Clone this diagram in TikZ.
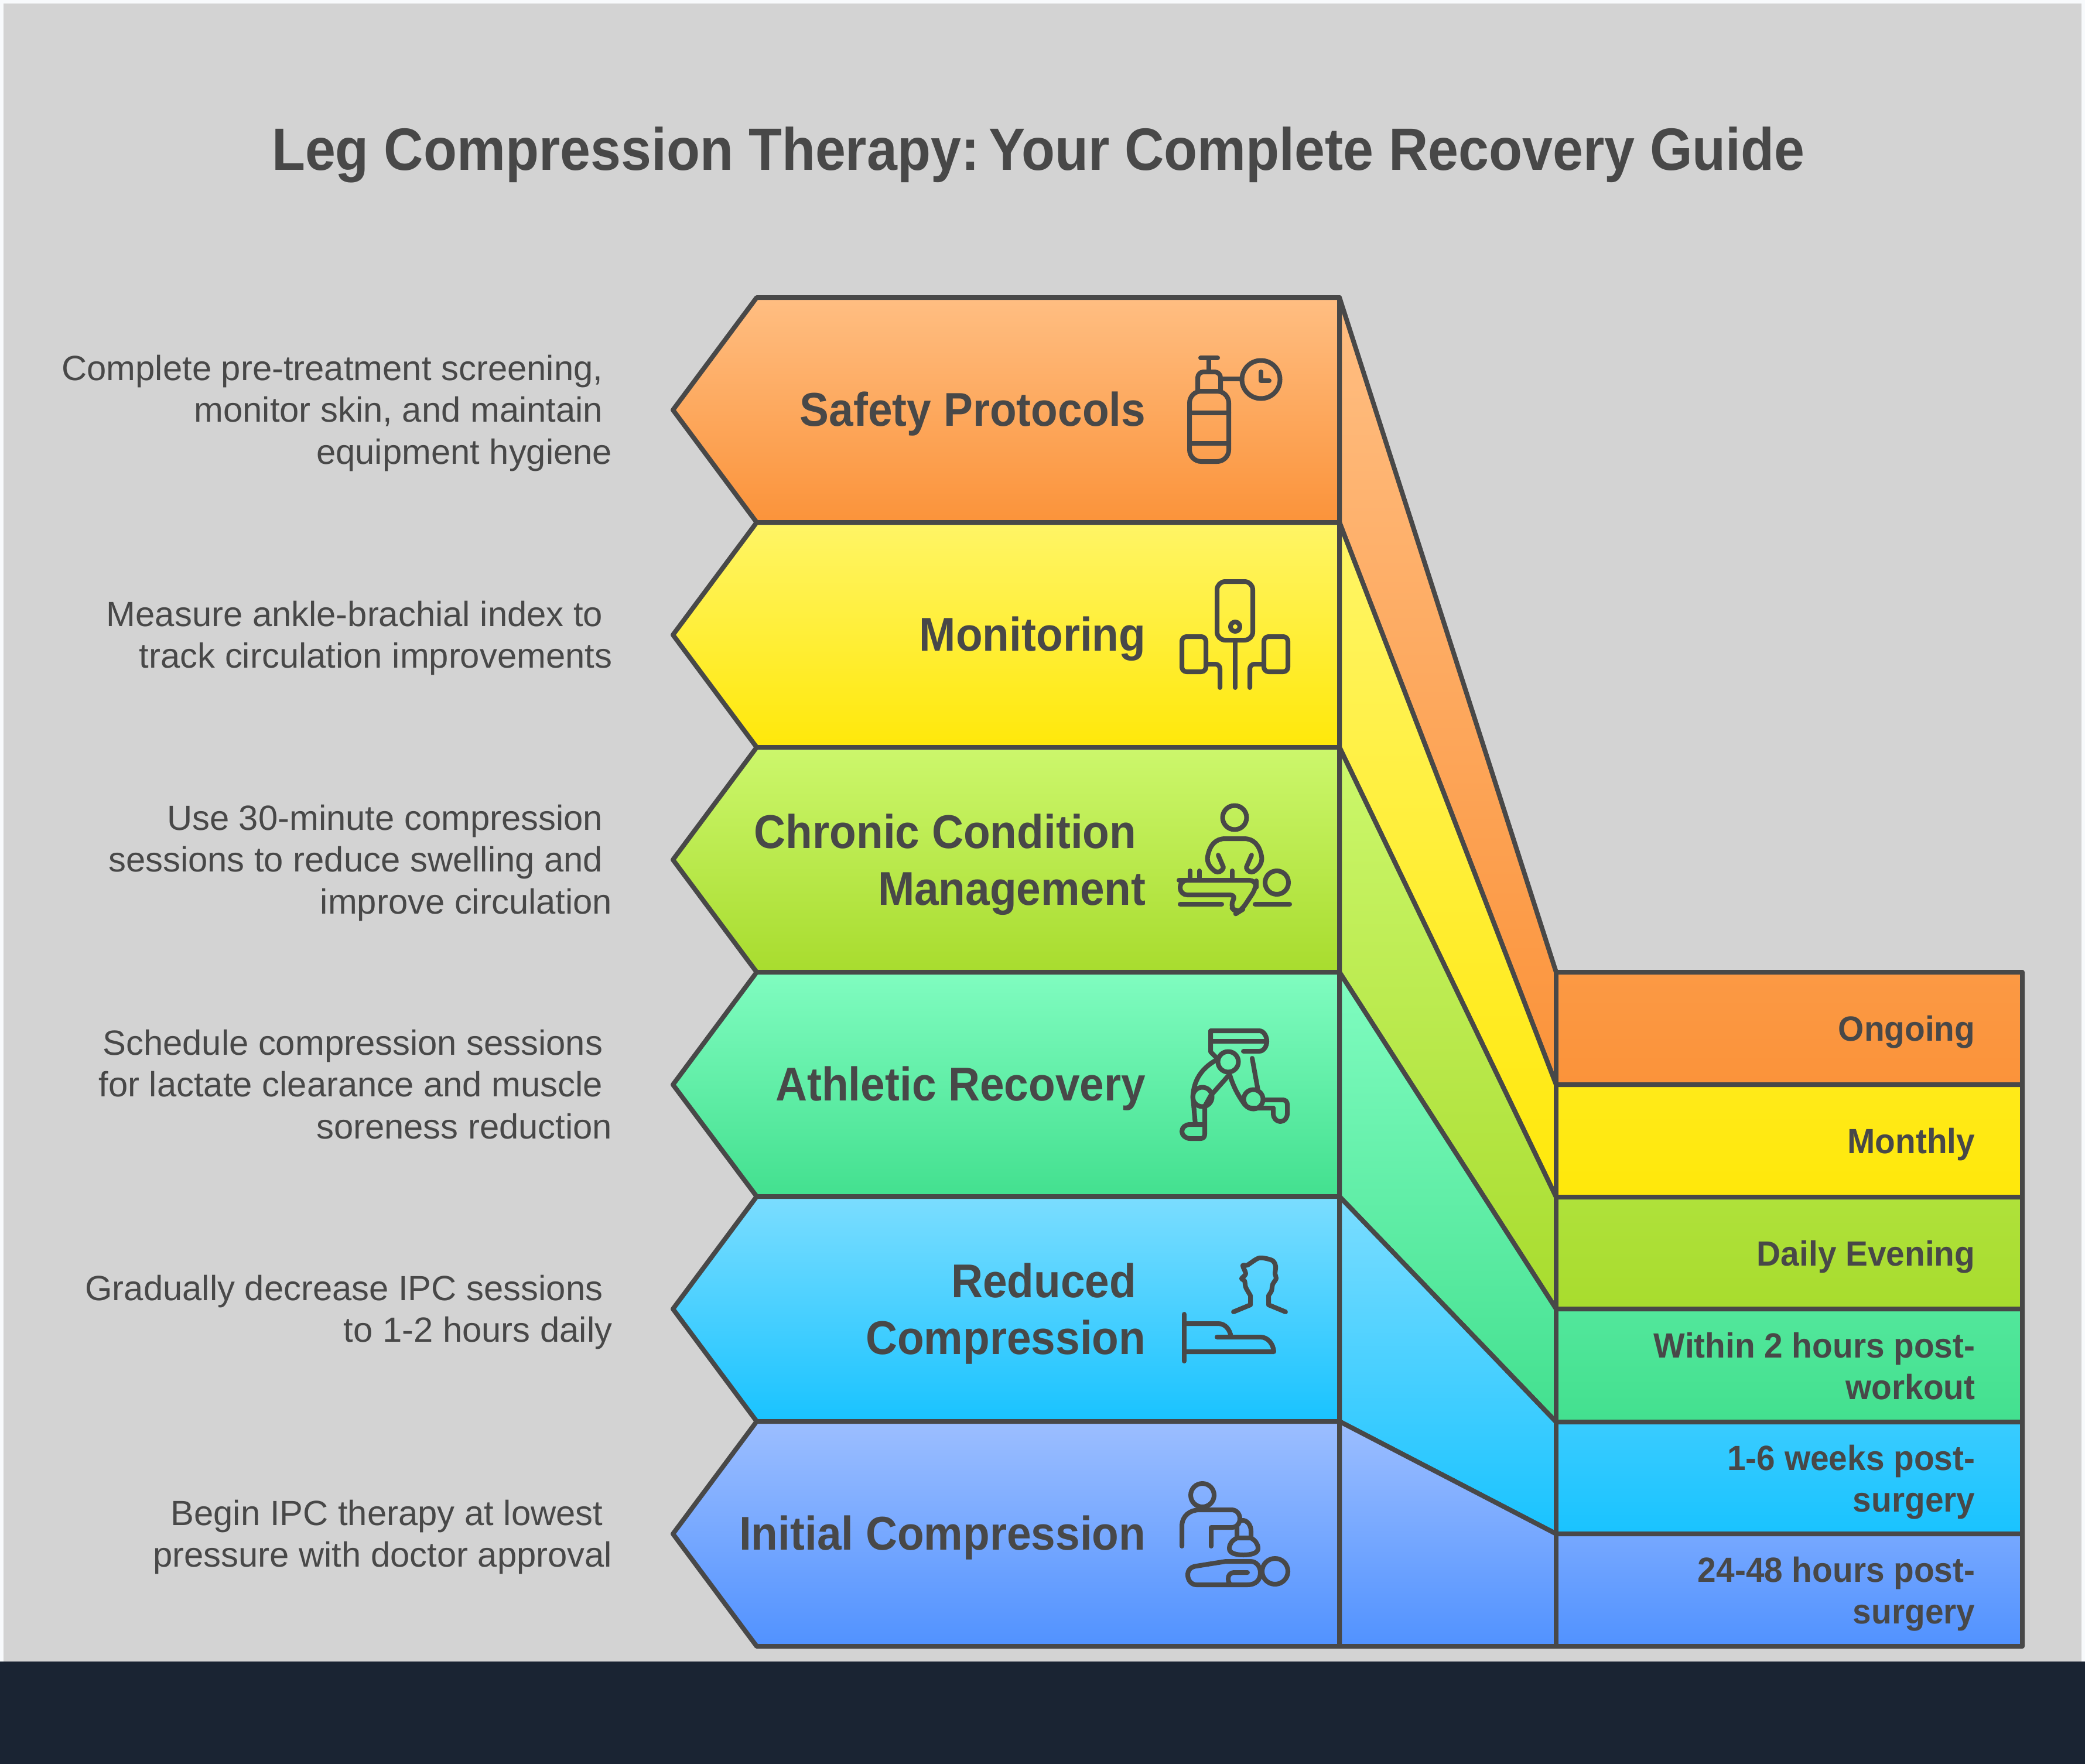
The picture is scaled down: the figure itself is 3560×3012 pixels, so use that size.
\documentclass[tikz,border=0pt]{standalone}
\usepackage{fontspec}
\setmainfont{Liberation Sans}
\newfontfamily\titlefont[FakeStretch=0.915]{Liberation Sans}
\newfontfamily\stagefont[FakeStretch=0.925]{Liberation Sans}
\newfontfamily\timingfont[FakeStretch=0.95]{Liberation Sans}
\definecolor{ink}{HTML}{484848}
\definecolor{panel}{HTML}{D3D3D3}
\definecolor{paper}{HTML}{F8FAFC}
\definecolor{strip}{HTML}{1A2433}
\definecolor{orangeA}{HTML}{FFBE82}
\definecolor{orangeB}{HTML}{FB933A}
\definecolor{yellowA}{HTML}{FFF566}
\definecolor{yellowB}{HTML}{FFE80A}
\definecolor{limeA}{HTML}{CCF76C}
\definecolor{limeB}{HTML}{A8DC2E}
\definecolor{mintA}{HTML}{80FCC0}
\definecolor{mintB}{HTML}{43E08F}
\definecolor{skyA}{HTML}{7BDDFF}
\definecolor{skyB}{HTML}{19C3FF}
\definecolor{blueA}{HTML}{9CBEFF}
\definecolor{blueB}{HTML}{5192FF}
\tikzset{
    outline/.style={draw=ink,line width=0.08cm,line join=round},
    icon/.style={draw=ink,line width=0.08cm,line cap=round,line join=round},
    headline/.style={text=ink,inner sep=0pt,yshift=-0.07cm,font=\titlefont\bfseries\fontsize{29}{35}\selectfont},
    textblock/.style={anchor=east,align=right,text=ink,inner sep=0pt,execute at begin node=\strut,execute at end node=\strut},
    stage/.style={textblock,yshift=-0.08cm,font=\stagefont\bfseries\fontsize{23}{27.4}\selectfont},
    note/.style={textblock,yshift=-0.1cm,font=\fontsize{17}{20.35}\selectfont},
    timing/.style={textblock,yshift=-0.07cm,font=\timingfont\bfseries\fontsize{17}{20.35}\selectfont},
}
\newcommand{\trail}{\hbox to 0.16cm{\hfil}}
\begin{document}
\begin{tikzpicture}[x=0.01cm,y=-0.01cm]
    \useasboundingbox (0,0) rectangle (3560,3012);
    % Page, grey panel and the dark strip at the foot
    \fill[paper] (0,0) rectangle (3560,3012);
    \fill[panel] (6,6) rectangle (3554,2837);
    \fill[strip] (0,2837) rectangle (3560,3012);
    \node[headline] (title) at (1773,257) {Leg Compression Therapy: \kern-0.18cm Your Complete Recovery Guide};

    % Bands with their end boxes, one shaded shape each, from top to bottom
    \filldraw[outline,top color=orangeA,bottom color=orangeB] (2287,508) -- (2657,1660) -- (3453,1660) -- (3453,1852) -- (2657,1852) -- (2287,892) -- cycle;
    \filldraw[outline,top color=yellowA,bottom color=yellowB] (2287,892) -- (2657,1852) -- (3453,1852) -- (3453,2044) -- (2657,2044) -- (2287,1276) -- cycle;
    \filldraw[outline,top color=limeA,bottom color=limeB] (2287,1276) -- (2657,2044) -- (3453,2044) -- (3453,2235) -- (2657,2235) -- (2287,1660) -- cycle;
    \filldraw[outline,top color=mintA,bottom color=mintB] (2287,1660) -- (2657,2235) -- (3453,2235) -- (3453,2428) -- (2657,2428) -- (2287,2043) -- cycle;
    \filldraw[outline,top color=skyA,bottom color=skyB] (2287,2043) -- (2657,2428) -- (3453,2428) -- (3453,2619) -- (2657,2619) -- (2287,2427) -- cycle;
    \filldraw[outline,top color=blueA,bottom color=blueB] (2287,2427) -- (2657,2619) -- (3453,2619) -- (3453,2811) -- (2287,2811) -- cycle;
    \draw[outline] (2657,1660) -- (2657,2811);

    % Arrow shaped stages
    \filldraw[outline,top color=orangeA,bottom color=orangeB] (1292,508) -- (2287,508) -- (2287,892) -- (1292,892) -- (1149,700) -- cycle;
    \filldraw[outline,top color=yellowA,bottom color=yellowB] (1292,892) -- (2287,892) -- (2287,1276) -- (1292,1276) -- (1149,1084) -- cycle;
    \filldraw[outline,top color=limeA,bottom color=limeB] (1292,1276) -- (2287,1276) -- (2287,1660) -- (1292,1660) -- (1149,1468) -- cycle;
    \filldraw[outline,top color=mintA,bottom color=mintB] (1292,1660) -- (2287,1660) -- (2287,2043) -- (1292,2043) -- (1149,1852) -- cycle;
    \filldraw[outline,top color=skyA,bottom color=skyB] (1292,2043) -- (2287,2043) -- (2287,2427) -- (1292,2427) -- (1149,2235) -- cycle;
    \filldraw[outline,top color=blueA,bottom color=blueB] (1292,2427) -- (2287,2427) -- (2287,2811) -- (1292,2811) -- (1149,2619) -- cycle;

    % Stage names
    \node[stage] (safety) at (1957,700) {Safety Protocols};
    \node[stage] (monitoring) at (1957,1084) {Monitoring};
    \node[stage] (chronic) at (1957,1474) {Chronic Condition\trail\\Management};
    \node[stage] (athletic) at (1957,1852) {Athletic Recovery};
    \node[stage] (reduced) at (1957,2241) {Reduced\trail\\Compression};
    \node[stage] (initial) at (1957,2619) {Initial Compression};

    % Notes on the left
    \node[note] (safetynote) at (1046,700) {Complete pre-treatment screening,\trail\\monitor skin, and maintain\trail\\equipment hygiene};
    \node[note] (monitoringnote) at (1046,1084) {Measure ankle-brachial index to\trail\\track circulation improvements};
    \node[note] (chronicnote) at (1046,1468) {Use 30-minute compression\trail\\sessions to reduce swelling and\trail\\improve circulation};
    \node[note] (athleticnote) at (1046,1852) {Schedule compression sessions\trail\\for lactate clearance and muscle\trail\\soreness reduction};
    \node[note] (reducednote) at (1046,2235) {Gradually decrease IPC sessions\trail\\to 1-2 hours daily};
    \node[note] (initialnote) at (1046,2619) {Begin IPC therapy at lowest\trail\\pressure with doctor approval};

    % Timings on the right
    \node[timing] (safetytime) at (3373,1756) {Ongoing};
    \node[timing] (monitoringtime) at (3373,1948) {Monthly};
    \node[timing] (chronictime) at (3373,2140) {Daily Evening};
    \node[timing] (athletictime) at (3373,2336) {Within 2 hours post-\\workout};
    \node[timing] (reducedtime) at (3373,2528) {1-6 weeks post-\\surgery};
    \node[timing] (initialtime) at (3373,2719) {24-48 hours post-\\surgery};

    % Icon: bottle with gauge
    \draw[icon,rounded corners=0.2cm] (2031,705) -- (2031,668) -- (2098,668) -- (2098,705);
    \draw[icon,rounded corners=0.2cm] (2031,705) -- (2031,788) -- (2098,788) -- (2098,705);
    \draw[icon] (2031,705) -- (2098,705) (2031,757) -- (2098,757);
    \draw[icon,rounded corners=0.1cm] (2045,668) -- (2045,635) -- (2084,635) -- (2084,668);
    \draw[icon] (2064,635) -- (2064,611) (2050,611) -- (2079,611);
    \draw[icon] (2084,647) -- (2120,647);
    \draw[icon] (2153,648) circle (32.5);
    \draw[icon] (2153,635) -- (2153,650) -- (2167,650);

    % Icon: monitor with two cuffs
    \draw[icon,rounded corners=0.14cm] (2078,993) rectangle (2139,1093);
    \draw[icon] (2109,1070) circle (8);
    \draw[icon] (2109,1093) -- (2109,1174);
    \draw[icon,rounded corners=0.08cm] (2018,1087) rectangle (2059,1147);
    \draw[icon,rounded corners=0.08cm] (2158,1087) rectangle (2199,1147);
    \draw[icon,rounded corners=0.08cm] (2059,1134) -- (2083,1134) -- (2083,1174);
    \draw[icon,rounded corners=0.08cm] (2158,1134) -- (2134,1134) -- (2134,1174);

    % Icon: therapist and resting leg
    \draw[icon] (2108,1396) circle (20.5);
    \draw[icon] (2080,1460) -- (2089,1481) .. controls (2086,1489) and (2080,1490) .. (2075,1488) .. controls (2066,1482) and (2060,1472) .. (2062,1462) .. controls (2066,1442) and (2076,1432) .. (2092,1432) -- (2124,1432) .. controls (2140,1432) and (2150,1442) .. (2154,1462) .. controls (2156,1472) and (2150,1482) .. (2141,1488) .. controls (2136,1490) and (2130,1489) .. (2128,1481) -- (2137,1460);
    \draw[icon] (2032,1487) -- (2032,1503) (2048,1487) -- (2048,1503) (2104,1487) -- (2104,1503);
    \draw[icon,rounded corners=0.12cm] (2025,1503) -- (2145,1503) -- (2145,1516) -- (2120,1554) -- (2112,1559) -- (2099,1546) -- (2112,1528) -- (2015,1528) -- (2015,1503) -- cycle;
    \draw[icon] (2015,1544) -- (2086,1544) (2143,1544) -- (2202,1544);
    \draw[icon] (2180,1507) circle (20);

    % Icon: moving leg on a thigh cuff
    \draw[icon] (2078,1807) -- (2067,1796) -- (2067,1760) -- (2150,1760) .. controls (2158,1760) and (2163,1770) .. (2163,1778) .. controls (2163,1786) and (2158,1795) .. (2150,1795) -- (2123,1795);
    \draw[icon] (2067,1778) -- (2163,1778);
    \draw[icon] (2097,1813) circle (17.5);
    \draw[icon] (2053,1873) circle (16.5);
    \draw[icon] (2140,1877) circle (16.5);
    \draw[icon] (2075,1811) .. controls (2052,1824) and (2038,1845) .. (2037,1871);
    \draw[icon] (2098,1836) -- (2067,1871) -- (2057,1889);
    \draw[icon] (2100,1836) .. controls (2106,1856) and (2114,1870) .. (2123,1883) .. controls (2128,1890) and (2132,1892) .. (2138,1892) -- (2174,1892);
    \draw[icon] (2138,1807) -- (2148,1862);
    \draw[icon] (2157,1878) -- (2190,1878) .. controls (2195,1878) and (2198,1881) .. (2198,1886) -- (2198,1901) .. controls (2198,1909) and (2193,1915) .. (2186,1915) .. controls (2179,1915) and (2174,1909) .. (2174,1901) -- (2174,1892);
    \draw[icon] (2037,1875) -- (2041,1920);
    \draw[icon] (2057,1889) -- (2057,1936) .. controls (2057,1941) and (2055,1944) .. (2050,1944) -- (2032,1944) .. controls (2024,1944) and (2018,1938) .. (2018,1932) .. controls (2018,1925) and (2024,1920) .. (2032,1920) -- (2057,1920);

    % Icon: person beside a bed
    \draw[icon] (2106,2240) -- (2135,2228) -- (2135,2212) plot[smooth] coordinates {(2135,2212) (2127,2198) (2125,2187) (2120,2183) (2127,2175) (2122,2161) (2130,2160) (2150,2148) (2172,2152) (2178,2162) (2177,2175) (2179,2183) (2173,2193) (2171,2204) (2166,2212)} -- (2166,2228) -- (2195,2240);
    \draw[icon] (2022,2244) -- (2022,2324);
    \draw[icon] (2022,2260) -- (2080,2260) .. controls (2092,2260) and (2100,2270) .. (2102,2283);
    \draw[icon] (2078,2283) -- (2152,2283) .. controls (2165,2283) and (2174,2295) .. (2175,2308) -- (2022,2308);

    % Icon: therapist applying a pad to a patient
    \draw[icon] (2053,2553) circle (20);
    \draw[icon] (2018,2640) -- (2018,2606) .. controls (2018,2588) and (2032,2578) .. (2048,2578) -- (2103,2578) .. controls (2112,2578) and (2117,2586) .. (2117,2593) .. controls (2117,2601) and (2112,2608) .. (2103,2608) -- (2068,2608) -- (2068,2640);
    \draw[icon] (2112,2608) -- (2112,2626) -- (2136,2626) -- (2136,2614) .. controls (2136,2605) and (2130,2595) .. (2120,2596);
    \draw[icon] (2112,2626) .. controls (2104,2630) and (2099,2636) .. (2099,2644) .. controls (2099,2652) and (2110,2655) .. (2123,2655) .. controls (2136,2655) and (2148,2652) .. (2148,2644) .. controls (2148,2636) and (2143,2630) .. (2136,2626);
    \draw[icon] (2177,2683) circle (22);
    \draw[icon] (2130,2685) -- (2108,2685) .. controls (2100,2685) and (2097,2690) .. (2097,2696) .. controls (2097,2702) and (2100,2706) .. (2103,2706) -- (2043,2706) .. controls (2034,2706) and (2028,2698) .. (2028,2689) .. controls (2028,2680) and (2034,2675) .. (2043,2674) -- (2093,2666) -- (2135,2666) .. controls (2146,2666) and (2152,2676) .. (2152,2685) .. controls (2152,2698) and (2144,2706) .. (2130,2706) -- (2103,2706);
\end{tikzpicture}
\end{document}
